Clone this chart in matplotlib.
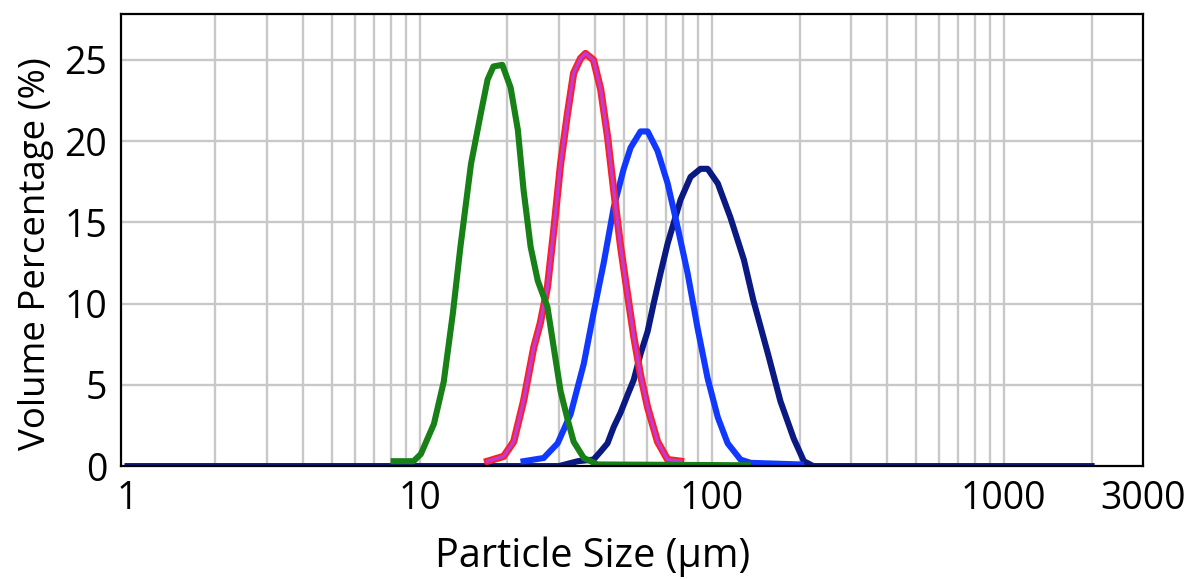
import matplotlib
matplotlib.use('Agg')
from matplotlib import pyplot as plt
from matplotlib.ticker import FixedLocator, NullFormatter
import numpy as np

# particle size (um) / volume percentage (%)
green_x = [8.15, 9.53, 10.1, 11.2, 12.1, 13.0, 13.8, 15.0, 16.2, 17.1, 17.9, 19.2,
           20.5, 21.7, 22.7, 24.0, 25.4, 27.4, 28.8, 30.4, 32.1, 33.7, 36.5, 40.7, 133]
green_y = [0.3, 0.3, 0.74, 2.6, 5.2, 9.4, 13.5, 18.6, 21.7, 23.8, 24.6, 24.7,
           23.3, 20.7, 17.0, 13.5, 11.4, 9.8, 7.3, 4.6, 2.9, 1.5, 0.5, 0.1, 0.05]

red_x = [17.1, 19.4, 21.0, 22.7, 24.6, 25.9, 27.4, 28.8, 30.4, 32.1, 33.7, 35.6,
         37.0, 39.4, 41.7, 44.0, 46.2, 48.8, 51.6, 54.1, 57.1, 60.4, 65.3, 70.7, 78.3]
red_y = [0.3, 0.6, 1.5, 4.0, 7.3, 8.8, 11.0, 14.5, 18.6, 21.7, 24.2, 25.1,
         25.4, 25.0, 23.2, 20.3, 17.0, 13.5, 10.5, 8.0, 5.6, 3.6, 1.5, 0.4, 0.3]

blue_x = [22.7, 26.6, 29.7, 32.9, 36.5, 39.4, 42.7, 46.2, 50.0, 52.8, 57.1, 60.4,
          65.3, 70.7, 76.5, 82.7, 89.5, 96.9, 105, 113.5, 125.6, 136, 202]
blue_y = [0.3, 0.5, 1.4, 3.2, 6.3, 9.4, 12.5, 15.9, 18.3, 19.6, 20.6, 20.6,
          19.4, 17.4, 14.7, 11.9, 8.5, 5.4, 3.0, 1.4, 0.4, 0.2, 0.1]

navy_x = [1, 30, 34.8, 39.4, 41.7, 44.0, 46.2, 48.8, 51.6, 54.1, 57.1, 60.4, 63.3,
          66.9, 70.7, 78.3, 84.7, 91.6, 96.9, 105, 116, 129, 139, 156, 172, 191,
          207, 223, 2000]
navy_y = [0, 0, 0.3, 0.4, 0.9, 1.4, 2.4, 3.3, 4.4, 5.3, 6.9, 8.3, 10.0,
          11.9, 13.7, 16.4, 17.8, 18.3, 18.3, 17.4, 15.3, 12.7, 10.2, 6.9, 4.0, 1.7,
          0.3, 0.0, 0.0]

x_ticks = [1, 10, 100, 1000, 3000]
y_ticks = [0, 5, 10, 15, 20, 25]

plt.rcParams['font.family'] = ['Open Sans', 'DejaVu Sans']

fig = plt.figure(figsize=(12.02, 5.79), dpi=100)
ax = fig.add_axes([0.1007, 0.195, 0.8502, 0.780])

# curves, navy lowest so the others sit on top at the baseline
lw = 4.4
ax.plot(navy_x, navy_y, color='#0b1a82', lw=lw, zorder=3, solid_joinstyle='round')
ax.plot(blue_x, blue_y, color='#1038ff', lw=lw, zorder=4, solid_joinstyle='round')
ax.plot(red_x, red_y, color='#ff2020', lw=lw + 0.8, zorder=5, solid_joinstyle='round')
ax.plot(red_x, red_y, color='#c23ad6', lw=2.4, zorder=6, solid_joinstyle='round')
ax.plot(green_x, green_y, color='#178017', lw=lw, zorder=7, solid_joinstyle='round')

ax.set_xscale('log')
ax.set_xlim(0.95, 3000)
ax.set_ylim(0, 27.8)

# grid lines: 2..9 of each decade plus 2000
grid_x = [m * 10 ** d for d in range(0, 3) for m in range(2, 11)] + [2000]
ax.xaxis.set_major_locator(FixedLocator(x_ticks))
ax.xaxis.set_minor_locator(FixedLocator(grid_x))
ax.xaxis.set_minor_formatter(NullFormatter())
ax.set_xticklabels([str(t) for t in x_ticks])
ax.set_yticks(y_ticks)

for gx in grid_x:
    ax.axvline(gx, color='#c8c8c8', lw=1.7, zorder=1)
for gy in y_ticks[1:]:
    ax.axhline(gy, color='#c8c8c8', lw=1.7, zorder=1)

ax.tick_params(which='both', length=0, labelsize=27, pad=10)
for s in ax.spines.values():
    s.set_color('black')
    s.set_linewidth(1.6)
    s.set_zorder(8)

ax.set_xlabel('Particle Size (µm)', fontsize=28.5)
ax.xaxis.set_label_coords(0.461, -0.155)
ax.set_ylabel('Volume Percentage (%)', fontsize=26.4)
ax.yaxis.set_label_coords(-0.066, 0.47)

fig.savefig('out.png', dpi=100)
